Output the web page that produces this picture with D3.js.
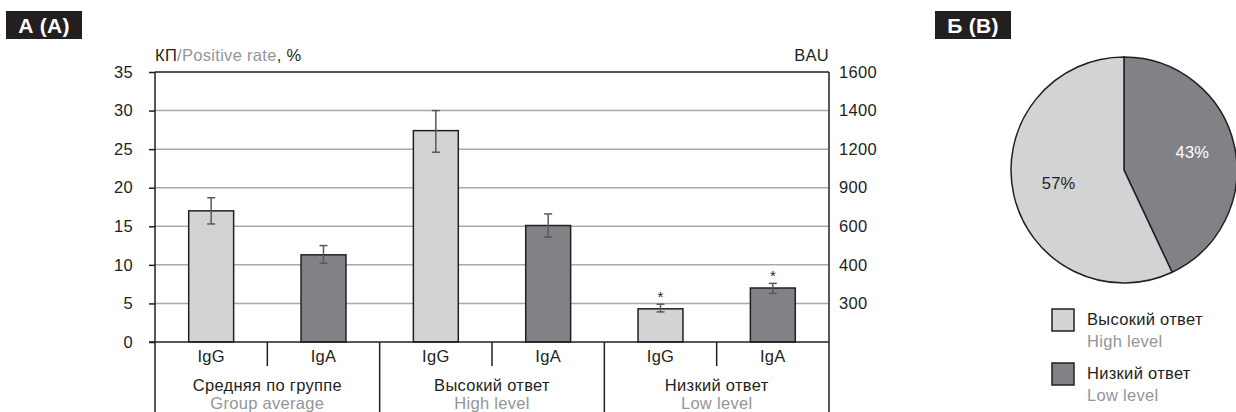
<!DOCTYPE html>
<html>
<head>
<meta charset="utf-8">
<script src="https://cdn.jsdelivr.net/npm/d3@7"></script>
<style>
  body { margin: 0; background: #fff; }
  svg { display: block; font-family: "Liberation Sans", Arial, sans-serif; }
</style>
</head>
<body>
<div id="chart"></div>
<script>
// data
var categories = ["IgG", "IgA", "IgG", "IgA", "IgG", "IgA"];
var groupsRu = ["Средняя по группе", "Высокий ответ", "Низкий ответ"];
var groupsEn = ["Group average", "High level", "Low level"];
var values = [17.0, 11.3, 27.4, 15.1, 4.3, 7.0];
var errLow = [15.3, 10.2, 24.6, 13.6, 3.9, 6.3];
var errHigh = [18.7, 12.5, 30.0, 16.6, 4.9, 7.6];
var starred = [false, false, false, false, true, true];
var leftTicks = [0, 5, 10, 15, 20, 25, 30, 35];
var rightTickLabels = ["", "300", "400", "600", "900", "1200", "1400", "1600"];
var pieLabels = ["Низкий ответ", "Высокий ответ"];
var pieLabelsEn = ["Low level", "High level"];
var pieShares = [43, 57];

var W = 1236, H = 412, FS = 16.5;
var light = "#d1d3d4", dark = "#808285", ink = "#231f20", grey = "#939598";

var svg = d3.select("#chart").append("svg").attr("width", W).attr("height", H)
  .attr("font-size", FS).attr("letter-spacing", 0.3);

// panel tags
function tag(x, txt) {
  svg.append("rect").attr("x", x).attr("y", 11).attr("width", 76).attr("height", 28).attr("fill", ink);
  svg.append("text").attr("x", x + 38).attr("y", 33).attr("text-anchor", "middle")
    .attr("fill", "#fff").attr("font-weight", "bold").attr("font-size", 21).text(txt);
}
tag(6, "А (А)");
tag(935, "Б (В)");

// ---- bar chart ----
var pLeft = 155, pRight = 829, pTop = 72, pBottom = 342;
var x = d3.scaleBand().domain(d3.range(categories.length)).range([pLeft, pRight])
  .paddingInner(0.6).paddingOuter(0.3);
var y = d3.scaleLinear().domain([0, 35]).range([pBottom, pTop]);
var step = x.step(), bw = x.bandwidth();

// gridlines
svg.append("g").selectAll("line").data(leftTicks.filter(function(d) { return d > 0 && d < 35; }))
  .enter().append("line")
  .attr("x1", pLeft).attr("x2", pRight).attr("y1", function(d) { return y(d); }).attr("y2", function(d) { return y(d); })
  .attr("stroke", "#a7a9ac").attr("stroke-width", 1.5);

// top border
svg.append("line").attr("x1", pLeft).attr("x2", pRight).attr("y1", y(35)).attr("y2", y(35))
  .attr("stroke", ink).attr("stroke-width", 1.5);

// left axis
var yAxis = d3.axisLeft(y).tickValues(leftTicks).tickSize(6).tickPadding(16);
var gl = svg.append("g").attr("transform", "translate(" + pLeft + ",0)").call(yAxis);
gl.attr("font-size", null).attr("font-family", null);
gl.select(".domain").remove();
gl.selectAll("line").attr("stroke", ink).attr("stroke-width", 1.5);
gl.selectAll("text").attr("fill", ink);

// right axis labels
var yAxisR = d3.axisRight(y).tickValues(leftTicks).tickSize(0).tickPadding(10)
  .tickFormat(function(d, i) { return rightTickLabels[i]; });
var gr = svg.append("g").attr("transform", "translate(" + pRight + ",0)").call(yAxisR);
gr.attr("font-size", null).attr("font-family", null);
gr.select(".domain").remove();
gr.selectAll("text").attr("fill", ink);

// bars
svg.append("g").selectAll("rect").data(values).enter().append("rect")
  .attr("x", function(d, i) { return x(i); })
  .attr("y", function(d) { return y(d); })
  .attr("width", bw)
  .attr("height", function(d) { return y(0) - y(d); })
  .attr("fill", function(d, i) { return i % 2 === 0 ? light : dark; })
  .attr("stroke", ink).attr("stroke-width", 1.5);

// error bars
var eg = svg.append("g").attr("stroke", "#58595b").attr("stroke-width", 1.5);
values.forEach(function(v, i) {
  var cx = x(i) + bw / 2;
  eg.append("line").attr("x1", cx).attr("x2", cx).attr("y1", y(errLow[i])).attr("y2", y(errHigh[i]));
  eg.append("line").attr("x1", cx - 4).attr("x2", cx + 4).attr("y1", y(errLow[i])).attr("y2", y(errLow[i]));
  eg.append("line").attr("x1", cx - 4).attr("x2", cx + 4).attr("y1", y(errHigh[i])).attr("y2", y(errHigh[i]));
  if (starred[i]) {
    svg.append("text").attr("x", cx).attr("y", y(errHigh[i]) - 2).attr("text-anchor", "middle")
      .attr("font-size", 15).attr("letter-spacing", 0).attr("fill", ink).text("*");
  }
});

// vertical axes lines
svg.append("line").attr("x1", pLeft).attr("x2", pLeft).attr("y1", pTop).attr("y2", H)
  .attr("stroke", ink).attr("stroke-width", 1.5);
svg.append("line").attr("x1", pRight).attr("x2", pRight).attr("y1", pTop).attr("y2", H)
  .attr("stroke", ink).attr("stroke-width", 1.5);
// baseline
svg.append("line").attr("x1", pLeft - 6).attr("x2", pRight).attr("y1", y(0)).attr("y2", y(0))
  .attr("stroke", ink).attr("stroke-width", 1.5);

// category labels and separators
categories.forEach(function(c, i) {
  var cx = x(i) + bw / 2;
  svg.append("text").attr("x", cx).attr("y", 362).attr("text-anchor", "middle")
    .attr("fill", ink).text(c);
  if (i < categories.length - 1) {
    var sx = cx + step / 2;
    var full = (i % 2 === 1);
    svg.append("line").attr("x1", sx).attr("x2", sx).attr("y1", y(0)).attr("y2", full ? H : 366)
      .attr("stroke", ink).attr("stroke-width", 1.5);
  }
});
groupsRu.forEach(function(g, k) {
  var cx = (x(2 * k) + x(2 * k + 1) + bw) / 2;
  svg.append("text").attr("x", cx).attr("y", 391).attr("text-anchor", "middle")
    .attr("fill", ink).text(g);
  svg.append("text").attr("x", cx).attr("y", 409).attr("text-anchor", "middle")
    .attr("fill", grey).text(groupsEn[k]);
});

// axis titles
var t = svg.append("text").attr("x", pLeft).attr("y", 61).attr("fill", ink);
t.append("tspan").text("КП");
t.append("tspan").attr("fill", grey).text("/Positive rate");
t.append("tspan").text(", %");
svg.append("text").attr("x", pRight).attr("y", 61).attr("text-anchor", "end")
  .attr("fill", ink).text("BAU");

// ---- pie ----
var pcx = 1124, pcy = 170, pr = 113;
var pie = d3.pie().sort(null).value(function(d) { return d; });
var arc = d3.arc().innerRadius(0).outerRadius(pr);
var pg = svg.append("g").attr("transform", "translate(" + pcx + "," + pcy + ")");
var arcs = pie(pieShares);
pg.selectAll("path").data(arcs).enter().append("path")
  .attr("d", arc)
  .attr("fill", function(d, i) { return i === 0 ? dark : light; })
  .attr("stroke", ink).attr("stroke-width", 1.5);
var labelArc = d3.arc().innerRadius(pr * 0.62).outerRadius(pr * 0.62);
pg.selectAll("text.pl").data(arcs).enter().append("text")
  .attr("class", "pl")
  .attr("transform", function(d, i) {
    var c = labelArc.centroid(d);
    return "translate(" + (c[0] + (i === 0 ? 0 : 3)) + "," + (c[1] + (i === 0 ? 3 : 4)) + ")";
  })
  .attr("text-anchor", "middle")
  .attr("fill", function(d, i) { return i === 0 ? "#fff" : ink; })
  .text(function(d) { return d.data + "%"; });

// legend (high first, then low)
var legendOrder = [1, 0];
legendOrder.forEach(function(idx, k) {
  var ly = 309 + k * 54;
  svg.append("rect").attr("x", 1052).attr("y", ly).attr("width", 22).attr("height", 22)
    .attr("fill", idx === 0 ? dark : light).attr("stroke", ink).attr("stroke-width", 1.5);
  svg.append("text").attr("x", 1087).attr("y", ly + 16).attr("fill", ink).text(pieLabels[idx]);
  svg.append("text").attr("x", 1087).attr("y", ly + 38).attr("fill", grey).text(pieLabelsEn[idx]);
});
</script>
</body>
</html>
